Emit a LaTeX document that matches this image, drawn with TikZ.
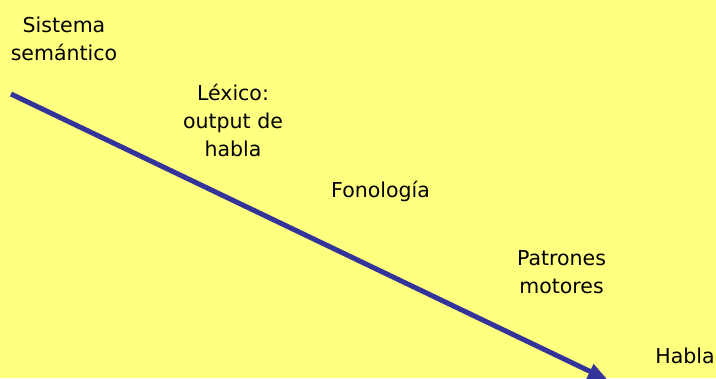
\documentclass[tikz,border=0pt]{standalone}
\usepackage{fontspec}
\setmainfont{DejaVu Sans}
\usetikzlibrary{arrows.meta}
\definecolor{bgyellow}{RGB}{255,255,128}
\definecolor{arrowblue}{RGB}{51,51,153}
\begin{document}
\begin{tikzpicture}[x=1bp,y=-1bp,
  lbl/.style={inner sep=0pt, anchor=base, align=center,
    font=\fontsize{20.5bp}{28bp}\selectfont, text=black},
  flow/.style={draw=arrowblue, line width=5bp,
    -{Triangle[length=20bp,width=15bp]}}]
\fill[bgyellow] (0,0) rectangle (716,378);
\useasboundingbox (0,0) rectangle (716,378);
\node[lbl] (sis) at (64,60) {Sistema\\sem\'antico};
\node[lbl] (lex) at (233,156) {L\'exico:\\output de\\habla};
\node[lbl] (fon) at (380.5,197) {Fonolog\'ia};
\node[lbl] (pat) at (561.5,293) {Patrones\\motores};
\node[lbl] (hab) at (685,363) {Habla};
\coordinate (start) at (11,94);
\coordinate (end) at (608,380);
\draw[flow] (start) -- (end);
\end{tikzpicture}
\end{document}
